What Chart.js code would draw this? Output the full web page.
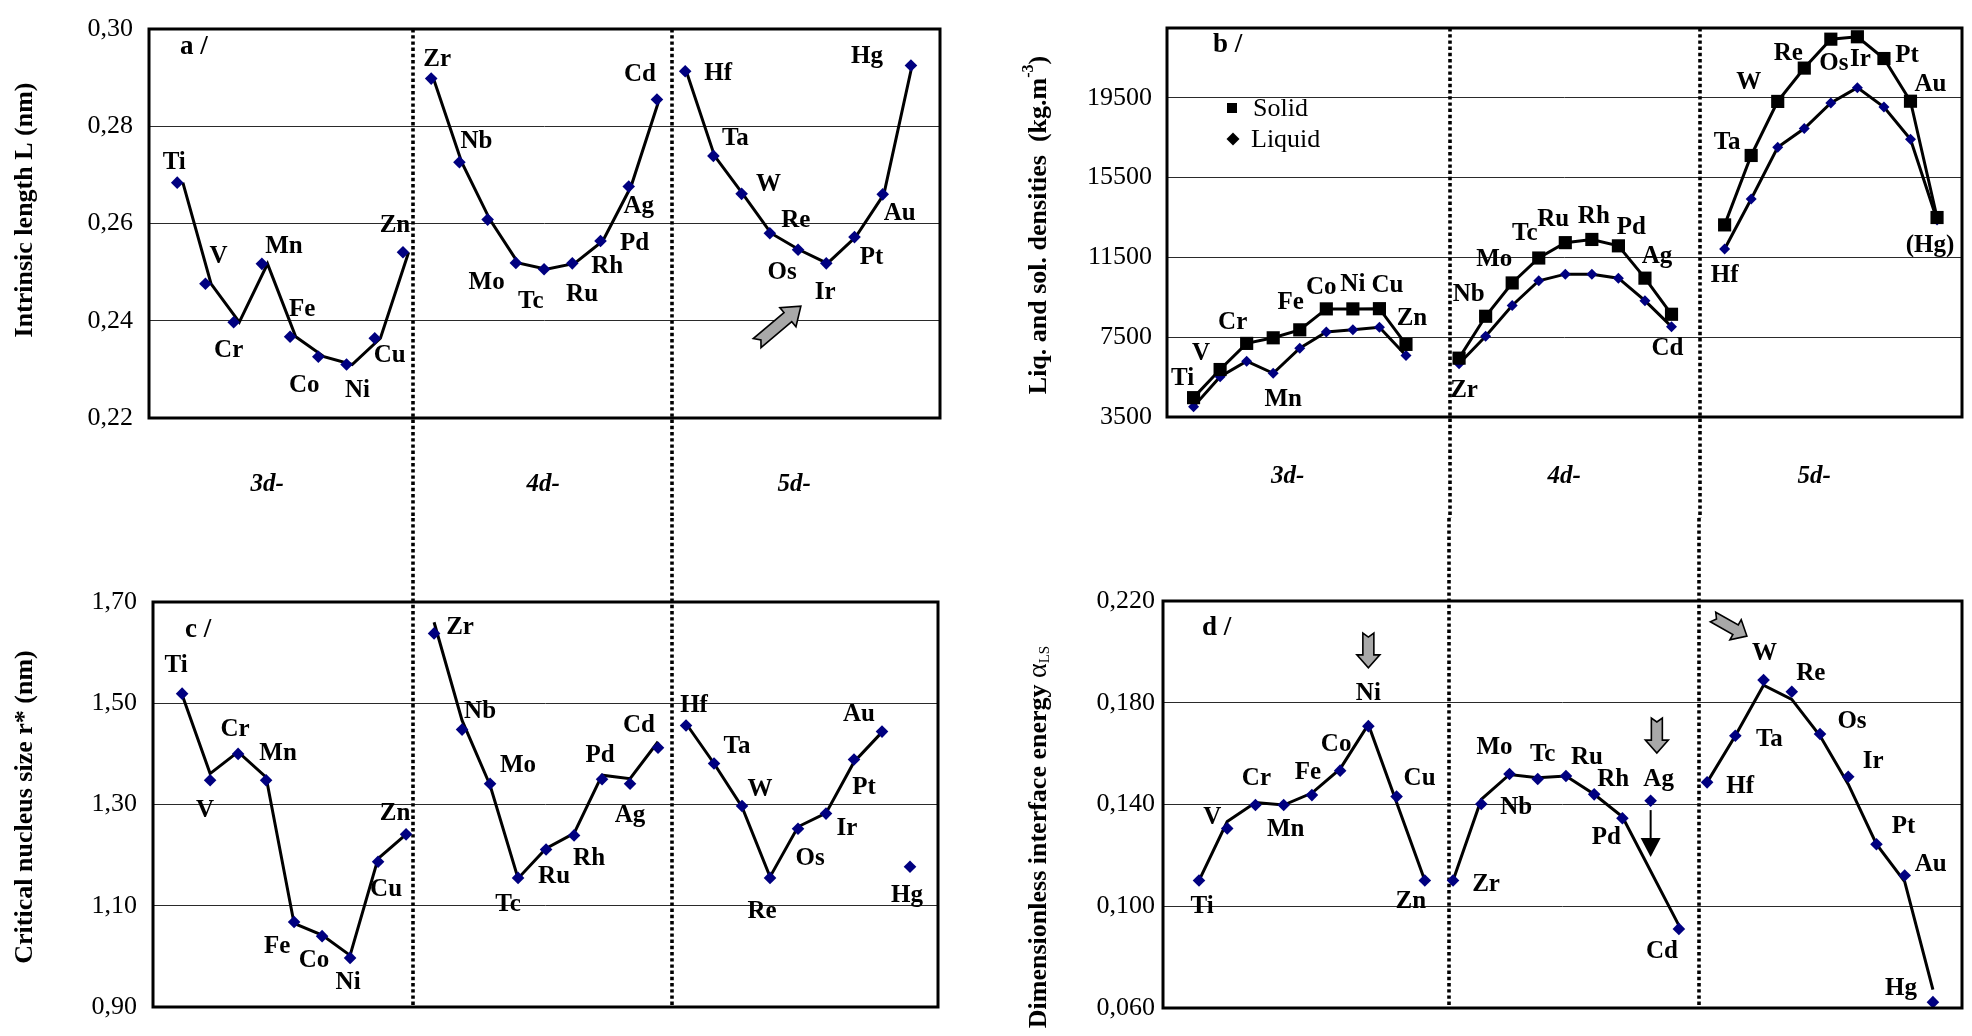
<!DOCTYPE html>
<html><head><meta charset="utf-8">
<script src="https://cdn.jsdelivr.net/npm/chart.js@4.4.1/dist/chart.umd.min.js"></script>
<style>
html,body{margin:0;padding:0;background:#fff;}
#wrap{position:relative;width:1972px;height:1036px;overflow:hidden;background:#fff;}
canvas{position:absolute;}
</style></head><body>
<div id="wrap">
<canvas id="ca" width="986" height="518" style="left:0;top:0"></canvas>
<canvas id="cb" width="986" height="518" style="left:986px;top:0"></canvas>
<canvas id="cc" width="986" height="518" style="left:0;top:518px"></canvas>
<canvas id="cd" width="986" height="518" style="left:986px;top:518px"></canvas>
</div>
<script>
// ---------------- DATA ----------------
const elems3d = ['Ti','V','Cr','Mn','Fe','Co','Ni','Cu','Zn'];
const elems4d = ['Zr','Nb','Mo','Tc','Ru','Rh','Pd','Ag','Cd'];
const elems5d = ['Hf','Ta','W','Re','Os','Ir','Pt','Au','Hg'];
const sectionNames = ['3d-','4d-','5d-'];

// a / intrinsic length L (nm)
const lengthL3d = [0.2684,0.2476,0.2397,0.2517,0.2367,0.2326,0.2310,0.2364,0.2541];
const lengthL4d = [0.2898,0.2726,0.2608,0.2519,0.2506,0.2518,0.2564,0.2676,0.2855];
const lengthL5d = [0.2913,0.2739,0.2661,0.2580,0.2546,0.2518,0.2572,0.2660,0.2925];
const ticksA = [0.22,0.24,0.26,0.28,0.30];

// b / densities (kg.m-3)
const solid3d  = [4470,5880,7190,7470,7870,8920,8920,8930,7140];
const liquid3d = [4020,5520,6300,5690,6950,7760,7870,8000,6580];
const solid4d  = [6450,8550,10220,11470,12240,12400,12080,10460,8650];
const liquid4d = [6170,7550,9090,10330,10660,10660,10460,9330,8030];
const solid5d  = [13130,16610,19320,20990,22440,22560,21470,19330,13500];
const liquid5d = [11920,14430,17020,17960,19240,20010,19040,17420,13380];
const ticksB = [3500,7500,11500,15500,19500];

// c / critical nucleus size r* (nm) : points and trend line
const nucleus3d = [1.519,1.348,1.400,1.348,1.068,1.040,0.997,1.187,1.241];
const nucleus4d = [1.638,1.448,1.341,1.155,1.211,1.239,1.350,1.341,1.412];
const nucleus5d = [1.456,1.381,1.297,1.155,1.252,1.282,1.389,1.444,1.177];
const nucleusLine3d = [1.517,1.361,1.404,1.354,1.065,1.042,1.002,1.193,1.241];
const nucleusLine4d = [1.660,1.466,1.338,1.154,1.213,1.243,1.358,1.351,1.424];
const nucleusLine5d = [1.460,1.381,1.295,1.157,1.256,1.283,1.384,1.443,null];
const ticksC = [0.90,1.10,1.30,1.50,1.70];

// d / dimensionless interface energy alpha_LS : points and trend line
const alpha3d = [0.1101,0.1306,0.1398,0.1398,0.1437,0.1533,0.1708,0.1431,0.1101];
const alpha4d = [0.1101,0.1402,0.1520,0.1500,0.1512,0.1440,0.1346,0.1415,0.0911];
const alpha5d = [0.1487,0.1670,0.1889,0.1843,0.1677,0.1509,0.1244,0.1121,0.0623];
const alphaLine3d = [0.1101,0.1333,0.1408,0.1398,0.1445,0.1540,0.1715,null,0.1101];
const alphaLine4d = [0.1101,0.1420,0.1518,0.1505,0.1512,0.1440,0.1352,null,0.0925];
const alphaLine5d = [0.1487,0.1670,0.1869,0.1813,0.1670,0.1480,0.1244,0.1097,0.0672];
const ticksD = [0.060,0.100,0.140,0.180,0.220];

// ---------------- STYLE / LABEL PLACEMENT ----------------
const SERIF = "'Liberation Serif', 'Times New Roman', serif";
const NAVY = '#000080';
const offsA = [
 [[-3,-20],[13,-27],[-5,28],[22,-17],[12,-27],[-14,29],[11,26],[15,17],[-8,-27]],
 [[6,-19],[17,-21],[-1,63],[15,39],[38,25],[35,3],[34,3],[10,20],[-17,-25]],
 [[33,2],[22,-17],[27,-9],[26,-13],[-16,23],[-1,29],[17,20],[17,19],[-44,-9]]];
const offsB = [
 [[-11,-19],[-19,-16],[-14,-21],[10,62],[-9,-27],[-5,-21],[0,-24],[8,-23],[6,-26]],
 [[5,32],[-17,-22],[-18,-23],[-14,-24],[-12,-23],[2,-23],[13,-18],[12,-22],[-4,34]],
 [[0,51],[-24,-13],[-29,-19],[-16,-15],[3,24],[3,23],[23,-3],[20,-17],[-7,28]]];
const offsC = [
 [[-6,-28],[-5,30],[-3,-24],[12,-27],[-17,25],[-8,24],[-2,25],[8,28],[-11,-21]],
 [[26,-6],[18,-18],[28,-18],[-10,27],[8,27],[15,23],[-2,-24],[0,32],[-19,-22]],
 [[8,-20],[23,-17],[18,-16],[-8,34],[12,30],[21,15],[10,28],[-23,-17],[-3,29]]];
const offsD = [
 [[3,26],[-15,-11],[1,-26],[2,25],[-4,-23],[-4,-26],[0,-33],[23,-18],[-14,21]],
 [[33,4],[35,4],[-15,-26],[5,-25],[21,-18],[19,-15],[-16,19],[8,-21],[-17,23]],
 [[33,4],[34,4],[1,-27],[19,-18],[32,-12],[25,-15],[27,-18],[26,-11],[-32,-14]]];

const groupsNames = [elems3d, elems4d, elems5d];

function markerPoints(groups, slot){
  const out=[];
  groups.forEach((g,gi)=>g.forEach((v,i)=>{ if(v!=null) out.push({x:gi*slot+i+1,y:v}); }));
  return out;
}
function linePoints(groups, slot, shifts){
  const out=[];
  groups.forEach((g,gi)=>{
    if(gi>0) out.push({x:gi*slot+0.5,y:null});
    g.forEach((v,i)=>{ if(v!=null) out.push({x:gi*slot+i+1+(shifts?shifts[gi]:0),y:v}); });
  });
  return out;
}
function labelItems(groups, slot, offs, rename){
  const out=[];
  groups.forEach((g,gi)=>g.forEach((v,i)=>{
    let t = groupsNames[gi][i];
    if(rename && rename[t]) t = rename[t];
    out.push({t, x:gi*slot+i+1, y:v, dx:offs[gi][i][0], dy:offs[gi][i][1]});
  }));
  return out;
}

const DECO = {};

function blockArrow(ctx,x0,y0,x1,y1,sw,hw,hl,notch){
  const L=Math.hypot(x1-x0,y1-y0), ux=(x1-x0)/L, uy=(y1-y0)/L, nx=-uy, ny=ux;
  const bx=x1-ux*hl, by=y1-uy*hl;
  ctx.beginPath();
  ctx.moveTo(x0+nx*sw,y0+ny*sw);
  ctx.lineTo(bx+nx*sw,by+ny*sw);
  ctx.lineTo(bx+nx*hw,by+ny*hw);
  ctx.lineTo(x1,y1);
  ctx.lineTo(bx-nx*hw,by-ny*hw);
  ctx.lineTo(bx-nx*sw,by-ny*sw);
  ctx.lineTo(x0-nx*sw,y0-ny*sw);
  ctx.lineTo(x0+ux*notch,y0+uy*notch);
  ctx.closePath();
  ctx.fillStyle='#a8a8a8'; ctx.fill();
  ctx.lineWidth=1.6; ctx.strokeStyle='#000'; ctx.setLineDash([]); ctx.stroke();
}

const decoPlugin = {
  id:'deco',
  beforeDatasetsDraw(chart){
    const d=DECO[chart.canvas.id]; if(!d) return;
    const ctx=chart.ctx, a=chart.chartArea, xs=chart.scales.x;
    ctx.save();
    ctx.strokeStyle='#000'; ctx.lineWidth=3.6; ctx.setLineDash([3.4,2.8]);
    d.dividers.forEach(v=>{
      const px=Math.round(xs.getPixelForValue(v));
      const y0 = d.divFrom==='top' ? a.top : 0;
      const y1 = d.divFrom==='top' ? chart.height : a.bottom;
      ctx.beginPath(); ctx.moveTo(px,y0); ctx.lineTo(px,y1); ctx.stroke();
    });
    ctx.restore();
  },
  afterDatasetsDraw(chart){
    const d=DECO[chart.canvas.id]; if(!d) return;
    const ctx=chart.ctx, xs=chart.scales.x, ys=chart.scales.y;
    ctx.save();
    ctx.fillStyle='#000';
    ctx.font='bold 25px '+SERIF; ctx.textAlign='center'; ctx.textBaseline='middle';
    d.labels.forEach(l=>{
      ctx.fillText(l.t, xs.getPixelForValue(l.x)+l.dx, ys.getPixelForValue(l.y)+l.dy);
    });
    (d.arrows||[]).forEach(ar=>{
      const x0=xs.getPixelForValue(ar.from[0]), y0=ys.getPixelForValue(ar.from[1]);
      const x1=xs.getPixelForValue(ar.to[0]), y1=ys.getPixelForValue(ar.to[1]);
      if(ar.kind==='black'){
        const hl=19, hw=10;
        ctx.strokeStyle='#000'; ctx.lineWidth=2; ctx.setLineDash([]);
        ctx.beginPath(); ctx.moveTo(x0,y0); ctx.lineTo(x1,y1-hl+1); ctx.stroke();
        ctx.beginPath(); ctx.moveTo(x1-hw,y1-hl); ctx.lineTo(x1+hw,y1-hl); ctx.lineTo(x1,y1); ctx.closePath();
        ctx.fillStyle='#000'; ctx.fill();
      } else {
        blockArrow(ctx,x0,y0,x1,y1,ar.sw,ar.hw,ar.hl,ar.notch);
      }
    });
    if(d.legend){
      const L=d.legend;
      ctx.fillStyle='#000';
      ctx.fillRect(L.sx-5,L.sy-5,10,10);
      ctx.beginPath(); ctx.moveTo(L.dx,L.dy-6.5); ctx.lineTo(L.dx+6.5,L.dy); ctx.lineTo(L.dx,L.dy+6.5); ctx.lineTo(L.dx-6.5,L.dy); ctx.closePath(); ctx.fill();
      ctx.font='26px '+SERIF; ctx.textAlign='left'; ctx.textBaseline='middle';
      ctx.fillText('Solid', L.tx1, L.sy+1);
      ctx.fillText('Liquid', L.tx2, L.dy+1);
    }
    ctx.restore();
  },
  afterDraw(chart){
    const d=DECO[chart.canvas.id]; if(!d) return;
    const ctx=chart.ctx, a=chart.chartArea, xs=chart.scales.x;
    ctx.save();
    ctx.setLineDash([]); ctx.strokeStyle='#000'; ctx.lineWidth=3;
    ctx.strokeRect(a.left,a.top,a.right-a.left,a.bottom-a.top);
    ctx.fillStyle='#000';
    // panel letter
    ctx.font='bold 27px '+SERIF; ctx.textAlign='left'; ctx.textBaseline='middle';
    ctx.fillText(d.letter.t, d.letter.x, d.letter.y);
    // section labels
    if(d.sections){
      ctx.font='italic bold 25px '+SERIF; ctx.textAlign='center';
      d.sections.xs.forEach((v,i)=>ctx.fillText(sectionNames[i], xs.getPixelForValue(v), d.sections.y));
    }
    // axis title (rotated, with sup/sub parts)
    const T=d.title;
    ctx.translate(T.x,T.y); ctx.rotate(-Math.PI/2);
    ctx.textAlign='left'; ctx.textBaseline='middle';
    const fonts = T.parts.map(p=>p.font || (p.sup||p.sub ? 'bold 16px '+SERIF : 'bold 26px '+SERIF));
    let total=0; const ws=T.parts.map((p,i)=>{ctx.font=fonts[i]; const w=ctx.measureText(p.t).width; total+=w; return w;});
    let x=-total/2;
    T.parts.forEach((p,i)=>{
      ctx.font=fonts[i];
      const y = p.sup ? -10 : (p.sub ? 6 : 0);
      ctx.fillText(p.t, x, y); x+=ws[i];
    });
    ctx.restore();
  }
};

function fmtComma(dec){ return v => Number(v).toFixed(dec).replace('.',','); }

function makeChart(id, c){
  return new Chart(document.getElementById(id), {
    type:'scatter',
    data:{datasets:c.datasets},
    options:{
      responsive:false, animation:false, devicePixelRatio:1,
      layout:{padding:c.pad},
      plugins:{legend:{display:false}, tooltip:{enabled:false}},
      events:[],
      scales:{
        x:{type:'linear', display:false, min:c.xmin, max:c.xmax},
        y:{type:'linear', min:c.ymin, max:c.ymax,
           afterBuildTicks:s=>{ s.ticks=c.ticks.map(v=>({value:v})); },
           afterFit:s=>{ s.width=c.axisW; },
           grid:{color:'#2a2a2a', lineWidth:1, drawTicks:false},
           border:{display:false},
           ticks:{autoSkip:false, padding:c.tickPad, color:'#000', font:{family:SERIF, size:26, lineHeight:1}, callback:c.fmt}
        }
      }
    },
    plugins:[decoPlugin]
  });
}

const markerStyle = {showLine:false, pointStyle:'rectRot', pointRadius:6.3, pointBackgroundColor:NAVY, pointBorderWidth:0, pointHoverRadius:6.3, clip:false};
const lineStyle = {showLine:true, borderColor:'#000', borderWidth:3, pointRadius:0, pointHoverRadius:0, spanGaps:false, tension:0, clip:false};

// ---------- Panel a ----------
const gA=[lengthL3d,lengthL4d,lengthL5d];
DECO.ca = {
  title:{parts:[{t:'Intrinsic length L (nm)'}], x:25, y:210},
  letter:{t:'a /', x:180, y:47},
  dividers:[9.36,18.53], divFrom:'top',
  sections:{xs:[4.19,13.97,22.86], y:485},
  labels:labelItems(gA,9,offsA),
  arrows:[{kind:'grey', from:[21.55,0.2354], to:[23.1,0.2430], sw:6, hw:12.5, hl:17, notch:5}]
};
makeChart('ca',{
  datasets:[
    Object.assign({data:markerPoints(gA,9)},markerStyle),
    Object.assign({data:linePoints(gA,9,[0.2,0.08,0.04])},lineStyle)
  ],
  pad:{top:14,right:46,bottom:100,left:0}, axisW:149, tickPad:16,
  xmin:0, xmax:28.03, ymin:0.22, ymax:0.30, ticks:ticksA, fmt:fmtComma(2)
});

// ---------- Panel b ----------
const gS=[solid3d,solid4d,solid5d], gL=[liquid3d,liquid4d,liquid5d];
DECO.cb = {
  title:{parts:[{t:'Liq. and sol. densities  (kg.m'},{t:'-3',sup:true},{t:')'}], x:53, y:225},
  letter:{t:'b /', x:227, y:45},
  dividers:[10.65,20.06], divFrom:'top',
  sections:{xs:[4.54,14.96,24.37], y:477},
  labels:labelItems(gS,10,offsB,{Hg:'(Hg)'}),
  legend:{sx:246, sy:108, dx:247, dy:139, tx1:267, tx2:265}
};
makeChart('cb',{
  datasets:[
    Object.assign({data:markerPoints(gS,10)},markerStyle,{pointStyle:'rect',pointRadius:9.3,pointBackgroundColor:'#000'}),
    Object.assign({data:markerPoints(gL,10)},markerStyle,{pointRadius:5.5}),
    Object.assign({data:linePoints(gS,10)},lineStyle),
    Object.assign({data:linePoints(gL,10)},lineStyle)
  ],
  pad:{top:15,right:10,bottom:101,left:0}, axisW:181, tickPad:15,
  xmin:0, xmax:29.94, ymin:3500, ymax:23000, ticks:ticksB, fmt:v=>String(v)
});

// ---------- Panel c ----------
const gC=[nucleus3d,nucleus4d,nucleus5d], gCl=[nucleusLine3d,nucleusLine4d,nucleusLine5d];
DECO.cc = {
  title:{parts:[{t:'Critical nucleus size r* (nm)'}], x:25, y:289},
  letter:{t:'c /', x:185, y:112},
  dividers:[9.25,18.5], divFrom:'bottom',
  labels:labelItems(gC,9,offsC)
};
makeChart('cc',{
  datasets:[
    Object.assign({data:markerPoints(gC,9)},markerStyle),
    Object.assign({data:linePoints(gCl,9)},lineStyle)
  ],
  pad:{top:84,right:48,bottom:29,left:0}, axisW:153, tickPad:16,
  xmin:-0.04, xmax:28, ymin:0.90, ymax:1.70, ticks:ticksC, fmt:fmtComma(2)
});

// ---------- Panel d ----------
const gD=[alpha3d,alpha4d,alpha5d], gDl=[alphaLine3d,alphaLine4d,alphaLine5d];
DECO.cd = {
  title:{parts:[{t:'Dimensionless interface energy '},{t:'α',font:'28px '+SERIF},{t:'LS',sub:true,font:'15px '+SERIF}], x:53, y:319},
  letter:{t:'d /', x:216, y:110},
  dividers:[9.856,18.71], divFrom:'bottom',
  labels:labelItems(gD,9,offsD),
  arrows:[
    {kind:'grey', from:[7,0.2074], to:[7,0.1937], sw:5.5, hw:11.5, hl:13, notch:4},
    {kind:'grey', from:[17.22,0.1740], to:[17.22,0.1602], sw:5.5, hw:11.5, hl:13, notch:4},
    {kind:'grey', from:[19.21,0.2137], to:[20.41,0.2062], sw:5.5, hw:11.5, hl:13, notch:4},
    {kind:'black', from:[17,0.1378], to:[17,0.1194]}
  ]
};
makeChart('cd',{
  datasets:[
    Object.assign({data:markerPoints(gD,9)},markerStyle),
    Object.assign({data:linePoints(gDl,9)},lineStyle)
  ],
  pad:{top:83,right:10,bottom:28,left:0}, axisW:177, tickPad:8,
  xmin:-0.275, xmax:28.03, ymin:0.060, ymax:0.220, ticks:ticksD, fmt:fmtComma(3)
});
</script>
</body></html>
